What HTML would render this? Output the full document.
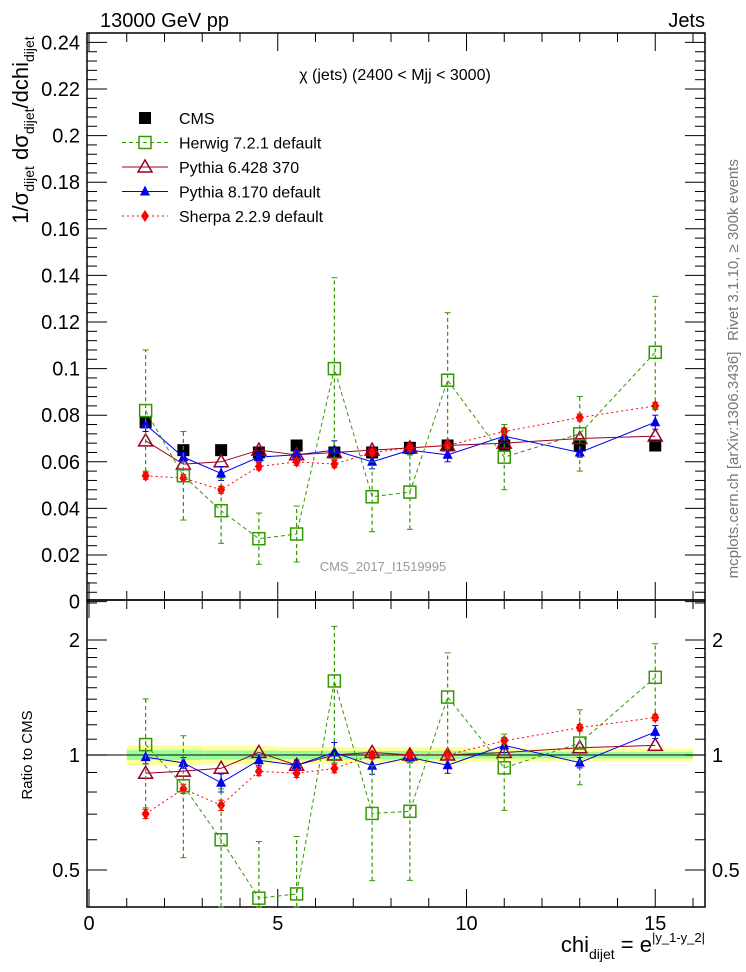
<!DOCTYPE html>
<html><head><meta charset="utf-8"><style>
body{margin:0;background:#fff}
svg{display:block;font-family:"Liberation Sans",sans-serif}
</style></head><body>
<svg id="c" width="746" height="972" viewBox="0 0 746 972" xmlns="http://www.w3.org/2000/svg">
<text x="100" y="27" font-size="20">13000 GeV pp</text>
<text x="705" y="27" font-size="20" text-anchor="end">Jets</text>
<text x="395" y="80" font-size="16" text-anchor="middle">χ (jets) (2400 &lt; Mjj &lt; 3000)</text>
<text x="383" y="571" font-size="13" fill="#999" text-anchor="middle">CMS_2017_I1519995</text>
<text transform="translate(738,250) rotate(-90)" font-size="15" fill="#777" text-anchor="middle">Rivet 3.1.10, ≥ 300k events</text>
<text transform="translate(738,465) rotate(-90)" font-size="15" fill="#777" text-anchor="middle">mcplots.cern.ch [arXiv:1306.3436]</text>
<text transform="translate(28,130) rotate(-90)" font-size="22" text-anchor="middle">1/σ<tspan font-size="14" dy="6">dijet</tspan><tspan dy="-6"> dσ</tspan><tspan font-size="14" dy="6">dijet</tspan><tspan dy="-6">/dchi</tspan><tspan font-size="14" dy="6">dijet</tspan></text>
<text transform="translate(32,755) rotate(-90)" font-size="15" text-anchor="middle">Ratio to CMS</text>
<text x="705" y="952" font-size="22" text-anchor="end">chi<tspan font-size="14" dy="7">dijet</tspan><tspan dy="-7"> = e</tspan><tspan font-size="13" dy="-10">|y_1-y_2|</tspan></text>
<g id="main"></g><g id="ratio"></g>
</svg>
<script>
const binCenters=[1.5,2.5,3.5,4.5,5.5,6.5,7.5,8.5,9.5,11,13,15];
const binLow=[1,2,3,4,5,6,7,8,9,10,12,14];
const binHigh=[2,3,4,5,6,7,8,9,10,12,14,16];
const cmsVals=[0.077,0.065,0.065,0.064,0.067,0.064,0.064,0.066,0.067,0.067,0.067,0.067];
const herwigVals=[0.082,0.054,0.039,0.027,0.029,0.100,0.045,0.047,0.095,0.062,0.072,0.107];
const herwigErr=[0.026,0.019,0.014,0.011,0.012,0.039,0.015,0.016,0.029,0.014,0.016,0.024];
const py6Vals=[0.069,0.059,0.060,0.065,0.063,0.064,0.065,0.066,0.067,0.068,0.070,0.071];
const py8Vals=[0.076,0.062,0.055,0.062,0.063,0.065,0.060,0.065,0.063,0.071,0.064,0.077];
const py8Err=[0.003,0.002,0.003,0.002,0.002,0.004,0.003,0.002,0.003,0.003,0.002,0.003];
const sherpaVals=[0.054,0.053,0.048,0.058,0.060,0.059,0.064,0.066,0.067,0.073,0.079,0.084];
const sherpaErr=[0.0015,0.0015,0.0015,0.0015,0.0015,0.0015,0.0015,0.0015,0.0015,0.0015,0.0015,0.0015];
const yTicks=[0,0.02,0.04,0.06,0.08,0.1,0.12,0.14,0.16,0.18,0.2,0.22,0.24];
const yTickLabels=["0","0.02","0.04","0.06","0.08","0.1","0.12","0.14","0.16","0.18","0.2","0.22","0.24"];
const xTicks=[0,5,10,15];
const rTicks=[0.5,1,2];
const bandYellow=[0.06,0.06,0.055,0.055,0.05,0.05,0.05,0.05,0.05,0.04,0.04,0.04];
const bandGreen=[0.03,0.03,0.027,0.027,0.025,0.025,0.025,0.025,0.025,0.02,0.02,0.02];

const L=87,R=705,T=33,MB=600,RB=907;
const X=v=>89+v*37.75;
const Y=v=>601.6-v*2330;
const RY=v=>755-Math.log10(v)*382;
const NS="http://www.w3.org/2000/svg";
function mk(p,t,a){const e=document.createElementNS(NS,t);for(const k in a)e.setAttribute(k,a[k]);p.appendChild(e);return e;}
const main=document.getElementById('main'),ratio=document.getElementById('ratio');

binCenters.forEach((c,i)=>{
  const y=mk(ratio,'rect',{x:X(binLow[i]),y:RY(1+bandYellow[i]),width:X(binHigh[i])-X(binLow[i]),height:RY(1-bandYellow[i])-RY(1+bandYellow[i]),fill:'#ffff99'});
  
  
  const g=mk(ratio,'rect',{x:X(binLow[i]),y:RY(1+bandGreen[i]),width:X(binHigh[i])-X(binLow[i]),height:RY(1-bandGreen[i])-RY(1+bandGreen[i]),fill:'#99ff99'});
  
  
});
mk(ratio,'line',{x1:L,x2:R,y1:RY(1),y2:RY(1),stroke:'#333','stroke-width':1.2});

mk(main,'rect',{x:L,y:T,width:R-L,height:MB-T,fill:'none',stroke:'#000','stroke-width':1.5});
mk(ratio,'rect',{x:L,y:MB,width:R-L,height:RB-MB,fill:'none',stroke:'#000','stroke-width':1.5});

for(let k=0;k<=61;k++){const v=k*0.004;
  const maj=k%5===0;const y=Y(v);
  if(y<T)continue;
  mk(main,'line',{x1:L,x2:L+(maj?20:10),y1:y,y2:y,stroke:'#000'});
  mk(main,'line',{x1:R,x2:R-(maj?20:10),y1:y,y2:y,stroke:'#000'});
}
yTicks.forEach((v,i)=>{const t=mk(main,'text',{x:80,y:Y(v)+7,'font-size':20,'text-anchor':'end'});t.textContent=yTickLabels[i];
 
 });
for(let v=0;v<=16;v+=1){const maj=v%5===0;const x=X(v);
 [[T,1],[MB,-1],[MB,1],[RB,-1]].forEach(([y0,d])=>mk(main,'line',{x1:x,x2:x,y1:y0,y2:y0+d*(maj?18:9),stroke:'#000'}));}
xTicks.forEach(v=>{const t=mk(ratio,'text',{x:X(v),y:930,'font-size':20,'text-anchor':'middle'});t.textContent=v;
 
 });
[0.4,0.5,0.6,0.7,0.8,0.9,1,1.1,1.2,1.3,1.4,1.5,1.6,1.7,1.8,1.9,2,2.5].forEach(v=>{const y=RY(v);if(y<MB||y>RB)return;const maj=rTicks.includes(v);
 mk(ratio,'line',{x1:L,x2:L+(maj?20:10),y1:y,y2:y,stroke:'#000'});mk(ratio,'line',{x1:R,x2:R-(maj?20:10),y1:y,y2:y,stroke:'#000'});});
rTicks.forEach(v=>{[[80,'end'],[712,'start']].forEach(([x,a])=>{const t=mk(ratio,'text',{x:x,y:RY(v)+7,'font-size':20,'text-anchor':a});t.textContent=v;
 
 });});

function marker(g,type,x,y,col){
  if(type==='sq')mk(g,'rect',{x:x-6,y:y-6,width:12,height:12,fill:'#000'});
  if(type==='osq')mk(g,'rect',{x:x-6,y:y-6,width:12,height:12,fill:'none',stroke:col,'stroke-width':1.5});
  if(type==='otri')mk(g,'polygon',{points:`${x},${y-7} ${x-7},${y+5} ${x+7},${y+5}`,fill:'none',stroke:col,'stroke-width':1.5});
  if(type==='tri')mk(g,'polygon',{points:`${x},${y-6} ${x-5},${y+4} ${x+5},${y+4}`,fill:col});
  if(type==='dia')mk(g,'polygon',{points:`${x},${y-6} ${x-4},${y} ${x},${y+6} ${x+4},${y}`,fill:col});
}
function series(panel,Yf,vals,errs,col,dash,type,name,ratioMode){
  const g=mk(panel,'g',{});
  
  
  const v=ratioMode?vals.map((a,i)=>a/cmsVals[i]):vals;
  const e=errs?(ratioMode?errs.map((a,i)=>a/cmsVals[i]):errs):null;
  const lo=ratioMode?0.38:0;
  const top=ratioMode?MB:T, bot=ratioMode?RB:MB;
  const clampY=y=>Math.min(Math.max(y,top),bot);
  if(type!=='sq'){
    const pts=binCenters.map((c,i)=>X(c)+','+clampY(Yf(Math.max(v[i],lo)))).join(' ');
    mk(g,'polyline',{points:pts,fill:'none',stroke:col,'stroke-width':1,'stroke-dasharray':dash});
  }
  binCenters.forEach((c,i)=>{
    if(e){const y1=clampY(Yf(Math.max(v[i]-e[i],lo+0.001))),y2=clampY(Yf(v[i]+e[i]));
      mk(g,'line',{x1:X(c),x2:X(c),y1:y1,y2:y2,stroke:col,'stroke-width':1.2,'stroke-dasharray':dash});
      mk(g,'line',{x1:X(c)-3,x2:X(c)+3,y1:y1,y2:y1,stroke:col});mk(g,'line',{x1:X(c)-3,x2:X(c)+3,y1:y2,y2:y2,stroke:col});}
    const yy=Yf(v[i]);if(yy<bot+2) marker(g,type,X(c),yy,col);
  });
}
series(main,Y,cmsVals,null,'#000','','sq','cms-series',false);
series(main,Y,py6Vals,null,'#990022','','otri','pythia6-series',false);
series(main,Y,py8Vals,py8Err,'#0000ee','','tri','pythia8-series',false);
series(main,Y,sherpaVals,sherpaErr,'#ff0000','2,3','dia','sherpa-series',false);
series(main,Y,herwigVals,herwigErr,'#339900','4,3','osq','herwig-series',false);
series(ratio,RY,py6Vals,null,'#990022','','otri','pythia6-ratio',true);
series(ratio,RY,py8Vals,py8Err,'#0000ee','','tri','pythia8-ratio',true);
series(ratio,RY,sherpaVals,sherpaErr,'#ff0000','2,3','dia','sherpa-ratio',true);
series(ratio,RY,herwigVals,herwigErr,'#339900','4,3','osq','herwig-ratio',true);

const legNames=["CMS","Herwig 7.2.1 default","Pythia 6.428 370","Pythia 8.170 default","Sherpa 2.2.9 default"];
const legCols=['#000','#339900','#990022','#0000ee','#ff0000'];
const legTypes=['sq','osq','otri','tri','dia'];
const legDash=['','4,3','','','2,3'];
legNames.forEach((n,i)=>{const y=118+i*24.5;const g=mk(main,'g',{});
 
 
 if(i>0)mk(g,'line',{x1:122,x2:168,y1:y,y2:y,stroke:legCols[i],'stroke-dasharray':legDash[i]});
 marker(g,legTypes[i],145,y,legCols[i]);
 const t=mk(g,'text',{x:179,y:y+6,'font-size':16});t.textContent=n;});
</script>
</body></html>
